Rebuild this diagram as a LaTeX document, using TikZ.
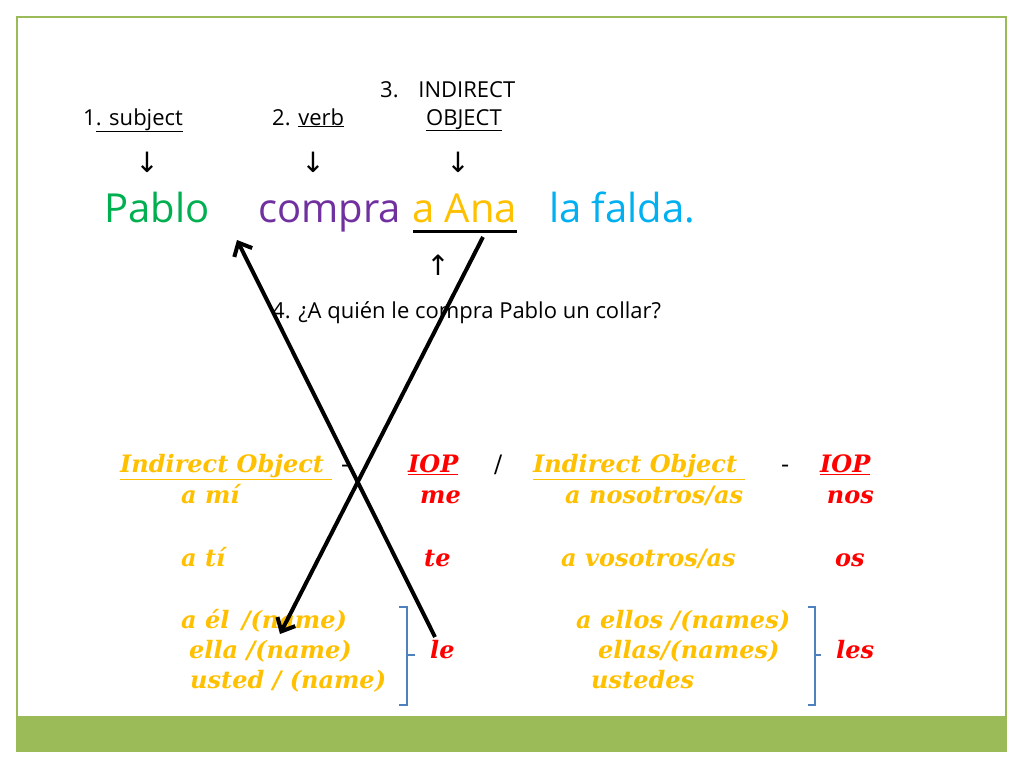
\documentclass[tikz,border=0pt]{standalone}
\usepackage{fontspec}
\setmainfont{DejaVu Serif}
\newfontfamily\comic{Open Sans}
\newfontfamily\symfont{DejaVu Sans}
\usetikzlibrary{arrows.meta}
\definecolor{frameg}{HTML}{9BBB59}
\definecolor{pgreen}{HTML}{00B050}
\definecolor{ppurple}{HTML}{7030A0}
\definecolor{pgold}{HTML}{FFC000}
\definecolor{pblue}{HTML}{00B0F0}
\definecolor{pred}{HTML}{FF0000}
\definecolor{brblue}{HTML}{4F81BD}
\begin{document}
\begin{tikzpicture}[x=1pt,y=-1pt,
  lbl/.style={anchor=base west, inner sep=0pt, font=\comic\fontsize{22}{24}\selectfont},
  big/.style={anchor=base west, inner sep=0pt, font=\comic\fontsize{40}{44}\selectfont},
  sym/.style={anchor=center, inner sep=0pt, font=\symfont\fontsize{28}{30}\selectfont},
  tb/.style={anchor=base west, inner sep=0pt, font=\fontsize{24}{26}\selectfont\bfseries\itshape, text=pgold},
  tbr/.style={tb, text=pred},
  tbk/.style={tb, text=black, font=\fontsize{24}{26}\selectfont},
  bigarrow/.style={line width=4pt, -{Straight Barb[length=11pt, width=20pt, line width=4pt]}},
  bracket/.style={draw=brblue, line width=1.3pt}
]
\useasboundingbox (0,0) rectangle (1024,768);
\fill[white] (0,0) rectangle (1024,768);
\fill[frameg] (17,716) rectangle (1006,751);
\draw[frameg, line width=1.5pt] (17,17) rectangle (1006,751);

% top labels
\node[lbl] (n1) at (83,125) {1\underline{. subject}};
\node[lbl] (n2) at (272,125) {2. \underline{verb}};
\node[lbl] (n3a) at (380,97) {3.\hspace{0.9em}INDIRECT};
\node[lbl] (n3b) at (426,125) {\underline{OBJECT}};
\node[sym] (d1) at (147,162) {↓};
\node[sym] (d2) at (313,162) {↓};
\node[sym] (d3) at (458,162) {↓};

% sentence
\node[big, text=pgreen] (pablo) at (104,222) {Pablo};
\node[big, text=ppurple] (compra) at (258,222) {compra};
\node[big, text=pgold] (ana) at (412,222) {a Ana};
\node[big, text=pblue] (falda) at (549,222) {la falda.};
\draw[line width=3pt] (413,231) -- (517,231);

\node[sym] (up) at (438,265) {↑};
\node[lbl] (q) at (272,318) {4. ¿A quién le compra Pablo un collar?};

% table header
\node[tb] (h1) at (120,472) {\underline{Indirect Object\ }};
\node[tbk] (hd1) at (341,472) {-};
\node[tbr] (h2) at (408,472) {\underline{IOP}};
\node[tbk] (sl) at (494,472) {/};
\node[tb] (h3) at (533,472) {\underline{Indirect Object\ }};
\node[tbk] (hd2) at (781,472) {-};
\node[tbr] (h4) at (820,472) {\underline{IOP}};

% rows
\node[tb] (r1a) at (181,503) {a mí};
\node[tbr, anchor=base east] (r1b) at (461,503) {me};
\node[tb] (r1c) at (565,503) {a nosotros/as};
\node[tbr, anchor=base east] (r1d) at (874,503) {nos};

\node[tb] (r2a) at (181,566) {a tí};
\node[tbr] (r2b) at (424,566) {te};
\node[tb] (r2c) at (561,566) {a vosotros/as};
\node[tbr] (r2d) at (835,566) {os};

\node[tb] (r3a) at (181,628) {a él \,/(name)};
\node[tb] (r3b) at (189,658) {ella /(name)};
\node[tb] (r3c) at (190,688) {usted / (name)};
\node[tbr] (le) at (430,658) {le};

\node[tb] (r3d) at (576,628) {a ellos /(names)};
\node[tb] (r3e) at (598,658) {ellas/(names)};
\node[tb] (r3f) at (591,688) {ustedes};
\node[tbr] (les) at (836,658) {les};

% brackets
\draw[bracket] (399,607) -- (407,607) -- (407,705) -- (399,705);
\draw[bracket] (407,655) -- (415,655);
\draw[bracket] (808,607) -- (815,607) -- (815,705) -- (808,705);
\draw[bracket] (815,655) -- (821,655);

% crossing arrows
\coordinate (a1s) at (435,637);
\coordinate (a1e) at (237,240);
\coordinate (a2s) at (483,237);
\coordinate (a2e) at (280,634);
\draw[bigarrow] (a1s) -- (a1e);
\draw[bigarrow] (a2s) -- (a2e);
\end{tikzpicture}
\end{document}
